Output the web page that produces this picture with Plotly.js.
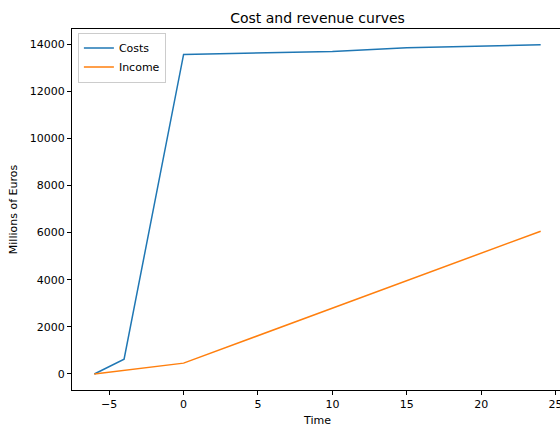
<!DOCTYPE html>
<html>
<head>
<meta charset="utf-8">
<script src="https://cdn.plot.ly/plotly-3.0.1.min.js"></script>
<style>html,body{margin:0;padding:0;overflow:hidden;background:#fff;width:560px;height:428px}</style>
</head>
<body>
<div id="chart" style="width:566px;height:428px"></div>
<script>
const costTime = [-6, -5, -4, 0, 10, 15, 24];
const costValues = [0, 300, 630, 13560, 13690, 13840, 13970];
const incomeTime = [-6, 0, 24];
const incomeValues = [0, 460, 6060];
const seriesNames = ['Costs', 'Income'];
const xTicks = [-5, 0, 5, 10, 15, 20, 25];
const xTickLabels = ['\u22125', '0', '5', '10', '15', '20', '25'];
const yTicks = [0, 2000, 4000, 6000, 8000, 10000, 12000, 14000];
const yTickLabels = ['0', '2000', '4000', '6000', '8000', '10000', '12000', '14000'];

const font = {family: 'DejaVu Sans, sans-serif', size: 11, color: '#000'};
const traces = [
  {x: costTime, y: costValues, name: seriesNames[0], mode: 'lines', line: {color: '#1f77b4', width: 1.5}},
  {x: incomeTime, y: incomeValues, name: seriesNames[1], mode: 'lines', line: {color: '#ff7f0e', width: 1.5}}
];
const axisCommon = {
  showgrid: false, zeroline: false, showline: true, mirror: true,
  linecolor: '#000', linewidth: 1, ticks: 'outside', ticklen: 4, tickwidth: 1, tickcolor: '#000',
  tickfont: font
};
const layout = {
  width: 566, height: 428,
  margin: {l: 72, r: 3, t: 29, b: 38},
  paper_bgcolor: '#fff', plot_bgcolor: '#fff',
  font: font,
  title: {text: 'Cost and revenue curves', font: {family: 'DejaVu Sans, sans-serif', size: 14, color: '#000'}, x: 0.5, xref: 'paper', xanchor: 'center', y: 1, yref: 'paper', yanchor: 'bottom', pad: {b: 6}},
  xaxis: Object.assign({}, axisCommon, {range: [-7.5, 25.5], tickvals: xTicks, ticktext: xTickLabels, title: {text: 'Time', font: font, standoff: 6}}),
  yaxis: Object.assign({}, axisCommon, {range: [-680, 14640], tickvals: yTicks, ticktext: yTickLabels, title: {text: 'Millions of Euros', font: font, standoff: 9}}),
  showlegend: true,
  legend: {x: 0.012, y: 0.99, xanchor: 'left', yanchor: 'top', bgcolor: 'rgba(255,255,255,0.8)', bordercolor: '#ccc', borderwidth: 1, font: font, tracegroupgap: 0, itemwidth: 30}
};
Plotly.newPlot('chart', traces, layout, {displayModeBar: false, staticPlot: true});
</script>
</body>
</html>
